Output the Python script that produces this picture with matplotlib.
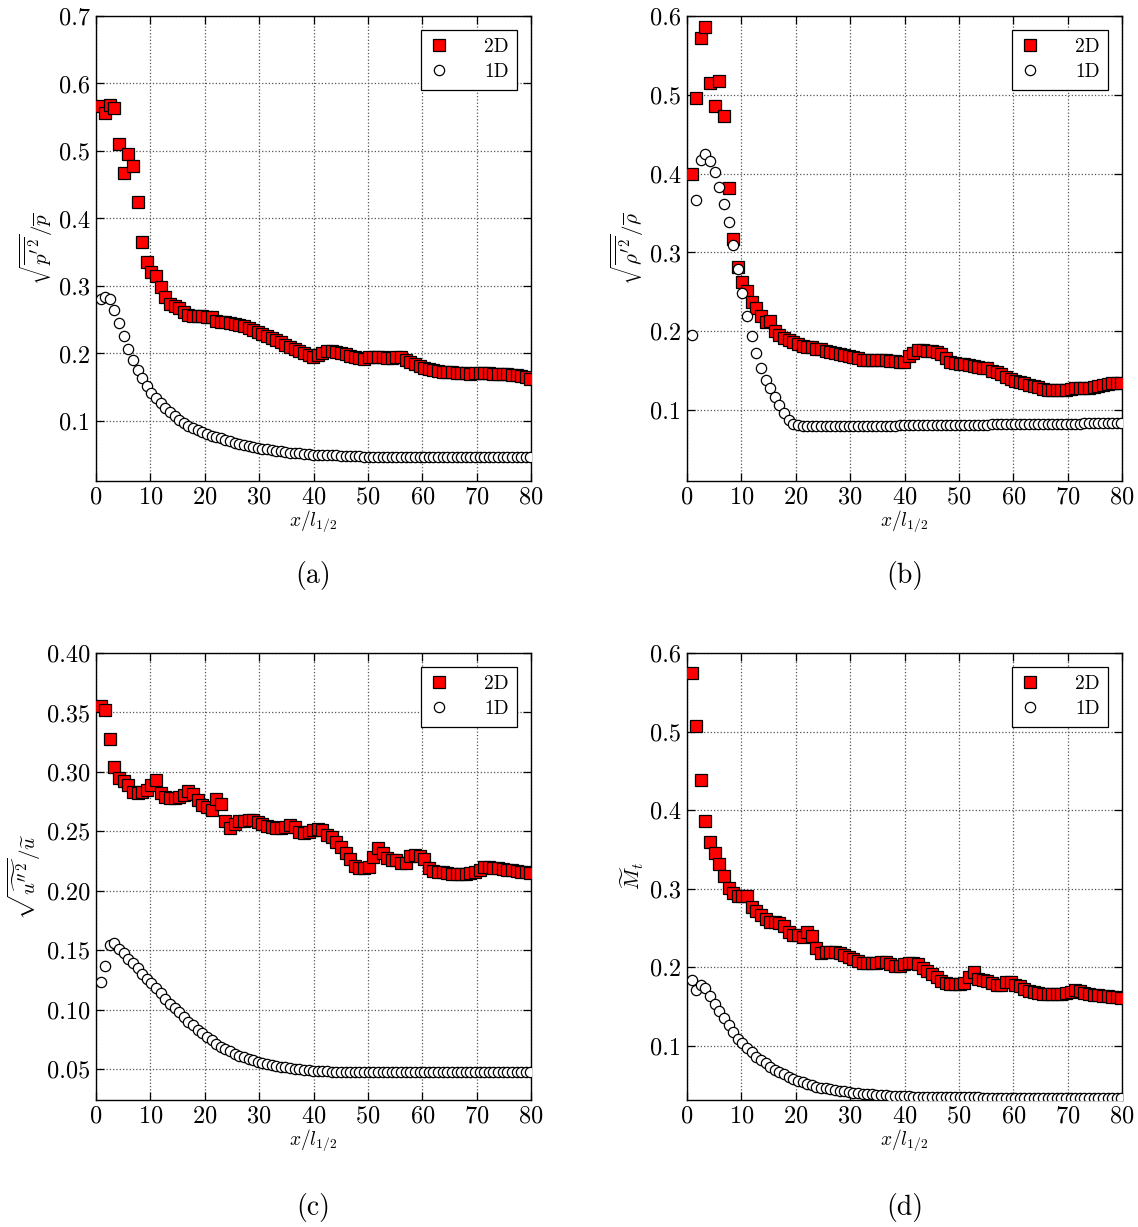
import numpy as np
import matplotlib
matplotlib.use("Agg")
import matplotlib.pyplot as plt

plt.rcParams.update({
    "font.family": "serif",
    "font.serif": ["cmr10", "DejaVu Serif"],
    "mathtext.fontset": "cm",
    "axes.formatter.use_mathtext": True,
    "axes.unicode_minus": False,
})

# sample positions x / l_{1/2}
x = np.arange(1, 95) * 0.85

# (a) pressure fluctuation
a_2d = [0.567, 0.556, 0.568, 0.563, 0.511, 0.467, 0.496, 0.478, 0.425, 0.365,
        0.335, 0.321, 0.315, 0.299, 0.283, 0.274, 0.270, 0.268, 0.262, 0.257,
        0.256, 0.255, 0.255, 0.254, 0.254, 0.248, 0.247, 0.246, 0.245, 0.243,
        0.242, 0.240, 0.237, 0.235, 0.232, 0.229, 0.226, 0.223, 0.220, 0.217,
        0.213, 0.210, 0.207, 0.203, 0.200, 0.197, 0.195, 0.197, 0.201, 0.204,
        0.204, 0.202, 0.201, 0.199, 0.196, 0.194, 0.193, 0.192, 0.194, 0.194,
        0.194, 0.194, 0.193, 0.193, 0.195, 0.195, 0.191, 0.187, 0.184, 0.181,
        0.179, 0.177, 0.175, 0.174, 0.173, 0.172, 0.172, 0.171, 0.171, 0.171,
        0.170, 0.171, 0.171, 0.171, 0.171, 0.170, 0.170, 0.170, 0.169, 0.168,
        0.168, 0.167, 0.165, 0.162]
a_1d = [0.280, 0.284, 0.280, 0.265, 0.245, 0.226, 0.207, 0.190, 0.176, 0.163,
        0.152, 0.142, 0.134, 0.126, 0.119, 0.113, 0.107, 0.102, 0.097, 0.093,
        0.089, 0.086, 0.083, 0.080, 0.078, 0.076, 0.074, 0.072, 0.070, 0.068,
        0.066, 0.065, 0.063, 0.062, 0.060, 0.059, 0.058, 0.057, 0.056, 0.055,
        0.054, 0.053, 0.053, 0.052, 0.051, 0.051, 0.050, 0.050, 0.050, 0.049,
        0.049, 0.049, 0.048, 0.048, 0.048, 0.048, 0.048, 0.047, 0.047, 0.047,
        0.047, 0.047, 0.047, 0.047, 0.047, 0.047, 0.047, 0.047, 0.047, 0.047,
        0.046, 0.046, 0.046, 0.046, 0.046, 0.046, 0.046, 0.046, 0.046, 0.046,
        0.046, 0.046, 0.046, 0.046, 0.046, 0.046, 0.046, 0.046, 0.046, 0.046,
        0.046, 0.046, 0.046, 0.046]

# (b) density fluctuation
b_2d = [0.400, 0.496, 0.572, 0.586, 0.515, 0.486, 0.517, 0.473, 0.382, 0.317,
        0.281, 0.263, 0.251, 0.237, 0.229, 0.219, 0.212, 0.213, 0.200, 0.195,
        0.192, 0.189, 0.187, 0.184, 0.181, 0.180, 0.180, 0.178, 0.177, 0.175,
        0.174, 0.173, 0.171, 0.170, 0.168, 0.167, 0.166, 0.164, 0.164, 0.163,
        0.163, 0.163, 0.163, 0.162, 0.162, 0.161, 0.161, 0.168, 0.173, 0.176,
        0.176, 0.175, 0.175, 0.174, 0.171, 0.166, 0.161, 0.160, 0.159, 0.158,
        0.157, 0.156, 0.155, 0.154, 0.153, 0.150, 0.148, 0.146, 0.142, 0.140,
        0.137, 0.135, 0.134, 0.132, 0.130, 0.129, 0.127, 0.126, 0.126, 0.125,
        0.125, 0.126, 0.127, 0.128, 0.128, 0.128, 0.128, 0.129, 0.131, 0.132,
        0.133, 0.134, 0.134, 0.134]
b_1d = [0.195, 0.366, 0.417, 0.425, 0.416, 0.402, 0.383, 0.362, 0.338, 0.309,
        0.279, 0.248, 0.219, 0.194, 0.172, 0.153, 0.138, 0.128, 0.117, 0.106,
        0.096, 0.087, 0.082, 0.081, 0.080, 0.080, 0.080, 0.080, 0.080, 0.080,
        0.080, 0.080, 0.080, 0.080, 0.080, 0.080, 0.080, 0.080, 0.080, 0.080,
        0.080, 0.080, 0.080, 0.080, 0.080, 0.081, 0.081, 0.081, 0.081, 0.081,
        0.081, 0.081, 0.081, 0.081, 0.081, 0.081, 0.081, 0.081, 0.081, 0.081,
        0.081, 0.081, 0.081, 0.081, 0.081, 0.082, 0.082, 0.082, 0.082, 0.082,
        0.082, 0.082, 0.082, 0.082, 0.082, 0.082, 0.082, 0.082, 0.082, 0.082,
        0.082, 0.082, 0.082, 0.082, 0.082, 0.083, 0.083, 0.083, 0.083, 0.083,
        0.083, 0.083, 0.083, 0.083]

# (c) velocity fluctuation
c_2d = [0.355, 0.352, 0.328, 0.304, 0.295, 0.292, 0.289, 0.283, 0.282, 0.283,
        0.285, 0.289, 0.293, 0.282, 0.279, 0.278, 0.278, 0.279, 0.2805, 0.284,
        0.281, 0.276, 0.272, 0.2705, 0.268, 0.277, 0.273, 0.259, 0.2525, 0.2565,
        0.2585, 0.2585, 0.2595, 0.2595, 0.258, 0.2565, 0.2545, 0.2535, 0.2525, 0.2525,
        0.2538, 0.2552, 0.2533, 0.2496, 0.2488, 0.2496, 0.251, 0.2516, 0.251, 0.2468,
        0.2455, 0.2412, 0.237, 0.2314, 0.2264, 0.2207, 0.2188, 0.219, 0.2201, 0.228,
        0.2356, 0.2314, 0.2272, 0.226, 0.2258, 0.2235, 0.2235, 0.229, 0.230, 0.229,
        0.2264, 0.2193, 0.2165, 0.216, 0.2155, 0.2146, 0.2138, 0.2138, 0.2138, 0.2138,
        0.2146, 0.216, 0.2173, 0.2196, 0.220, 0.2195, 0.2188, 0.218, 0.2175, 0.2173,
        0.2165, 0.2162, 0.216, 0.2146]
c_1d = [0.123, 0.137, 0.154, 0.156, 0.151, 0.148, 0.143, 0.139, 0.135, 0.130,
        0.126, 0.122, 0.118, 0.114, 0.109, 0.105, 0.101, 0.098, 0.094, 0.090,
        0.087, 0.083, 0.080, 0.077, 0.0742, 0.0715, 0.069, 0.0668, 0.0648, 0.063,
        0.0614, 0.060, 0.0587, 0.0575, 0.0563, 0.0553, 0.0543, 0.0535, 0.0527, 0.052,
        0.0514, 0.0508, 0.0503, 0.0499, 0.0495, 0.0491, 0.0488, 0.0485, 0.0482, 0.048,
        0.0478, 0.0477, 0.0476, 0.0475, 0.0475, 0.0474, 0.0474, 0.0474, 0.0473, 0.0473,
        0.0473, 0.0473, 0.0473, 0.0473, 0.0473, 0.0472, 0.0472, 0.0472, 0.0472, 0.0472,
        0.0472, 0.0472, 0.0472, 0.0472, 0.0472, 0.0472, 0.0472, 0.0472, 0.0472, 0.0472,
        0.0472, 0.0472, 0.0472, 0.0472, 0.0472, 0.0472, 0.0472, 0.0472, 0.0472, 0.0472,
        0.0472, 0.0472, 0.0472, 0.0472]

# (d) turbulent Mach number
d_2d = [0.574, 0.507, 0.438, 0.386, 0.359, 0.345, 0.331, 0.316, 0.301, 0.294,
        0.291, 0.291, 0.291, 0.277, 0.271, 0.267, 0.262, 0.258, 0.257, 0.256,
        0.2527, 0.2454, 0.2412, 0.2412, 0.2391, 0.2454, 0.240, 0.2243, 0.218, 0.220,
        0.220, 0.219, 0.218, 0.2158, 0.2136, 0.2103, 0.2081, 0.206, 0.2052, 0.2052,
        0.206, 0.2073, 0.2073, 0.204, 0.2018, 0.2018, 0.2035, 0.2048, 0.206, 0.2035,
        0.199, 0.195, 0.191, 0.1875, 0.183, 0.1795, 0.1789, 0.1789, 0.1792, 0.180,
        0.1882, 0.1933, 0.1845, 0.1835, 0.182, 0.1798, 0.178, 0.1776, 0.1818, 0.1818,
        0.178, 0.1755, 0.1721, 0.170, 0.1685, 0.167, 0.1665, 0.166, 0.1657, 0.1657,
        0.1657, 0.167, 0.1685, 0.1704, 0.1695, 0.1678, 0.1662, 0.1649, 0.1642, 0.1636,
        0.163, 0.1626, 0.1618, 0.1612]
d_1d = [0.184, 0.171, 0.178, 0.173, 0.164, 0.153, 0.144, 0.135, 0.126, 0.118,
        0.109, 0.1035, 0.0975, 0.092, 0.0862, 0.0815, 0.0775, 0.0735, 0.0697, 0.0665,
        0.0635, 0.0605, 0.0575, 0.0555, 0.0535, 0.0515, 0.0497, 0.048, 0.0468, 0.0457,
        0.0447, 0.0437, 0.0428, 0.042, 0.0413, 0.0405, 0.0398, 0.0391, 0.0386, 0.0381,
        0.0377, 0.0373, 0.0369, 0.0366, 0.0363, 0.036, 0.0358, 0.0356, 0.0354, 0.0352,
        0.035, 0.0349, 0.0348, 0.0347, 0.0346, 0.0345, 0.0344, 0.0344, 0.0343, 0.0343,
        0.0342, 0.0342, 0.0342, 0.0341, 0.0341, 0.0341, 0.0341, 0.034, 0.034, 0.034,
        0.034, 0.034, 0.034, 0.034, 0.034, 0.034, 0.034, 0.034, 0.034, 0.034,
        0.034, 0.034, 0.034, 0.034, 0.034, 0.034, 0.034, 0.034, 0.034, 0.034,
        0.034, 0.034, 0.034, 0.034]

ylabels = [r"$\sqrt{\overline{p'^2}}/\overline{p}$",
           r"$\sqrt{\overline{\rho'^2}}/\overline{\rho}$",
           r"$\sqrt{\widetilde{u''^2}}/\widetilde{u}$",
           r"$\widetilde{M}_t$"]
panel_tags = ["(a)", "(b)", "(c)", "(d)"]
yticks = [[0.1, 0.2, 0.3, 0.4, 0.5, 0.6, 0.7],
          [0.1, 0.2, 0.3, 0.4, 0.5, 0.6],
          [0.05, 0.10, 0.15, 0.20, 0.25, 0.30, 0.35, 0.40],
          [0.1, 0.2, 0.3, 0.4, 0.5, 0.6]]
ylims = [(0.011, 0.7), (0.010, 0.6), (0.024, 0.40), (0.031, 0.6)]
yfmt = ["%.1f", "%.1f", "%.2f", "%.1f"]
series = [(a_2d, a_1d), (b_2d, b_1d), (c_2d, c_1d), (d_2d, d_1d)]

W, H = 1138, 1227
fig = plt.figure(figsize=(W / 100, H / 100), dpi=100)

# axes boxes in pixels: left, right, top, bottom
boxes = [(96, 531, 16, 481), (687, 1122, 16, 481),
         (96, 531, 653, 1100), (687, 1122, 653, 1100)]
tag_y = [575, 575, 1208, 1208]

for k in range(4):
    l, r, t, b = boxes[k]
    ax = fig.add_axes([l / W, 1 - b / H, (r - l) / W, (b - t) / H])
    y2, y1 = series[k]
    ax.plot(x, y2, linestyle="none", marker="s", markersize=8.0,
            markerfacecolor="red", markeredgecolor="black",
            markeredgewidth=0.9, label="2D", zorder=3)
    ax.plot(x, y1, linestyle="none", marker="o", markersize=7.4,
            markerfacecolor="white", markeredgecolor="black",
            markeredgewidth=0.9, label="1D", zorder=4)
    ax.set_xlim(0, 80)
    ax.set_ylim(*ylims[k])
    ax.set_xticks(range(0, 81, 10))
    ax.set_yticks(yticks[k])
    ax.set_yticklabels([yfmt[k] % v for v in yticks[k]])
    ax.grid(True, linestyle=":", color="#555555", linewidth=0.9, zorder=0)
    ax.set_axisbelow(True)
    ax.tick_params(direction="in", top=True, right=True, length=6,
                   width=0.9, labelsize=17.5, pad=4)
    for s in ax.spines.values():
        s.set_linewidth(1.0)
        s.set_color("black")
    ax.set_xlabel(r"$x/l_{1/2}$", fontsize=14, labelpad=0)
    ax.set_ylabel(ylabels[k], fontsize=15, labelpad=3)
    leg = ax.legend(loc="upper right", fontsize=14, frameon=True,
                    fancybox=False, edgecolor="black", framealpha=1,
                    handlelength=1.0, handletextpad=1.8, borderpad=0.45,
                    labelspacing=0.35, borderaxespad=0.7)
    leg.get_frame().set_linewidth(0.9)
    fig.text((l + r) / 2 / W, 1 - tag_y[k] / H, panel_tags[k],
             ha="center", va="center", fontsize=20)

fig.savefig("out.png", dpi=100)
